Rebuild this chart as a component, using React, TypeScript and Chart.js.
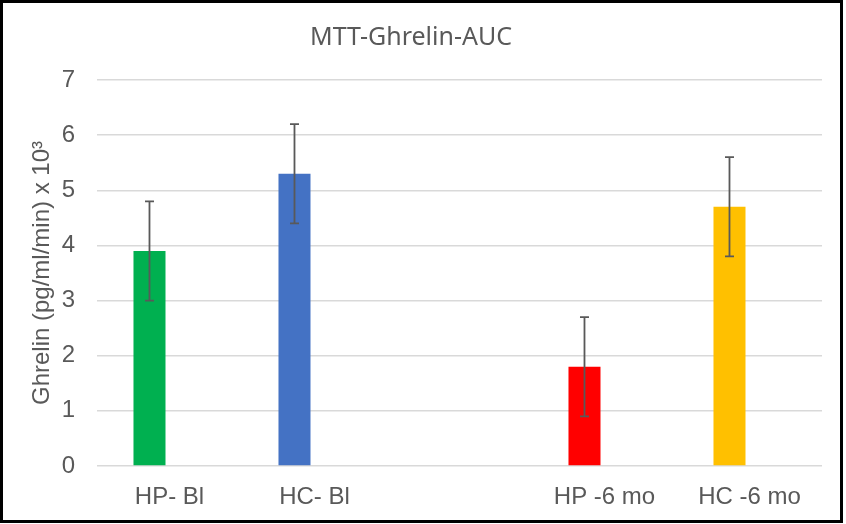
import { useEffect, useRef } from "react";
import { Chart, registerables } from "chart.js";

Chart.register(...registerables);

// groups on the x axis (the middle slot is an empty spacer, as in the original)
const categories = ["HP- Bl", "HC- Bl", "", "HP -6 mo", "HC -6 mo"];
const ghrelinAuc = [3.9, 5.3, null, 1.8, 4.7];
const ghrelinErr = [0.9, 0.9, null, 0.9, 0.9];
const barColors = ["#00B050", "#4472C4", "#FFFFFF", "#FF0000", "#FFC000"];
// second, empty series keeps the bars left of the category centre (Excel cluster)
const emptySeries = [null, null, null, null, null];
const yTicks = [0, 1, 2, 3, 4, 5, 6, 7];

const TEXT = "#595959";
const ARIAL = "'Liberation Sans', Arial, sans-serif";

const errorBars = {
  id: "errorBars",
  afterDatasetsDraw(chart: any) {
    const { ctx, scales } = chart;
    const meta = chart.getDatasetMeta(0);
    ctx.save();
    ctx.strokeStyle = "#595959";
    ctx.lineWidth = 1.8;
    meta.data.forEach((bar: any, i: number) => {
      const v = ghrelinAuc[i];
      const e = ghrelinErr[i];
      if (v == null || e == null) return;
      const top = scales.y.getPixelForValue(v + e);
      const bottom = scales.y.getPixelForValue(v - e);
      const x = bar.x;
      ctx.beginPath();
      ctx.moveTo(x, top);
      ctx.lineTo(x, bottom);
      ctx.moveTo(x - 4.5, top);
      ctx.lineTo(x + 4.5, top);
      ctx.moveTo(x - 4.5, bottom);
      ctx.lineTo(x + 4.5, bottom);
      ctx.stroke();
    });
    ctx.restore();
  },
};

function GhrelinChart() {
  const canvasRef = useRef<HTMLCanvasElement>(null);
  const chartRef = useRef<Chart | null>(null);

  useEffect(() => {
    document.body.style.margin = "0";
    if (!canvasRef.current) return;
    if (chartRef.current) chartRef.current.destroy();

    chartRef.current = new Chart(canvasRef.current, {
      type: "bar",
      data: {
        labels: categories,
        datasets: [
          {
            label: "Ghrelin AUC",
            data: ghrelinAuc,
            backgroundColor: barColors,
            categoryPercentage: 0.552,
            barPercentage: 0.8,
          },
          {
            label: "",
            data: emptySeries,
            categoryPercentage: 0.552,
            barPercentage: 0.8,
          },
        ],
      },
      options: {
        animation: false,
        responsive: true,
        maintainAspectRatio: false,
        layout: { padding: { left: 0, right: 24, top: 0, bottom: 0 } },
        plugins: {
          legend: { display: false },
          tooltip: { enabled: false },
          title: {
            display: true,
            text: "MTT-Ghrelin-AUC",
            color: TEXT,
            font: { family: "'Noto Sans', sans-serif", size: 25, weight: "normal", lineHeight: 1.2 },
            padding: { top: 23, bottom: 27 },
          },
        },
        scales: {
          x: {
            grid: { display: false, drawTicks: false },
            border: { display: false },
            ticks: {
              color: TEXT,
              padding: 16.5,
              font: { family: ARIAL, size: 24 },
            },
            afterFit: (scale: any) => {
              scale.height = 58;
            },
          },
          y: {
            min: 0,
            max: 7,
            afterBuildTicks: (scale: any) => {
              scale.ticks = yTicks.map((v) => ({ value: v }));
            },
            grid: { color: "#D9D9D9", lineWidth: 1.5, drawTicks: false },
            border: { display: false },
            ticks: {
              color: TEXT,
              padding: 22,
              font: { family: ARIAL, size: 24 },
            },
            title: {
              display: true,
              text: "Ghrelin (pg/ml/min) x 10³",
              color: TEXT,
              font: { family: ARIAL, size: 24, lineHeight: 1.2 },
              padding: { top: 27.6, bottom: 0 },
            },
            afterFit: (scale: any) => {
              scale.width = 97;
            },
          },
        },
      },
      plugins: [errorBars],
    });

    return () => {
      if (chartRef.current) {
        chartRef.current.destroy();
        chartRef.current = null;
      }
    };
  }, []);

  return (
    <div style={{ position: "relative", width: 846, height: 524, background: "#fff" }}>
      <canvas ref={canvasRef} />
      <div
        style={{
          position: "absolute",
          left: 0,
          top: 0,
          width: 843,
          height: 523,
          border: "3px solid #000",
          boxSizing: "border-box",
          pointerEvents: "none",
        }}
      />
    </div>
  );
}

export default function App() {
  return <GhrelinChart />;
}
